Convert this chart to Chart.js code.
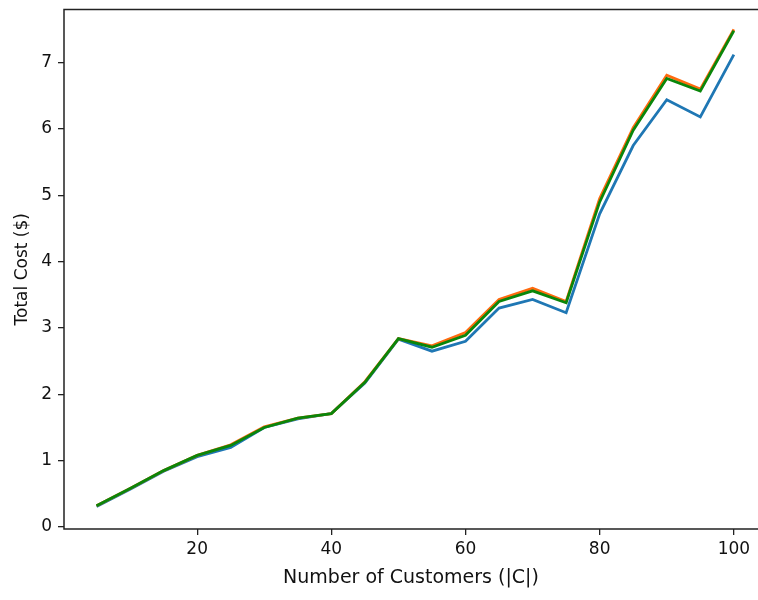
<!DOCTYPE html>
<html>
<head>
<meta charset="utf-8">
<script src="https://cdn.jsdelivr.net/npm/chart.js@4/dist/chart.umd.min.js"></script>
<style>
  html, body { margin: 0; padding: 0; background: #fff; overflow: hidden; }
  #wrap { width: 758px; height: 600px; }
</style>
</head>
<body>
<div id="wrap"><canvas id="costChart" width="758" height="600"></canvas></div>
<script>
// -------------------------
// DATA
// -------------------------

const customers = [5, 10, 15, 20, 25, 30, 35, 40, 45, 50, 55, 60, 65, 70, 75, 80, 85, 90, 95, 100];

const blueCost = [0.31, 0.57, 0.84, 1.06, 1.20, 1.50, 1.63, 1.71, 2.17, 2.83, 2.65, 2.80, 3.30, 3.43, 3.23, 4.72, 5.75, 6.44, 6.18, 7.12];
const orangeCost = [0.32, 0.58, 0.85, 1.08, 1.24, 1.51, 1.64, 1.71, 2.19, 2.84, 2.73, 2.93, 3.43, 3.60, 3.40, 4.95, 6.02, 6.81, 6.60, 7.50];
const greenCost = [0.32, 0.58, 0.85, 1.08, 1.23, 1.50, 1.64, 1.71, 2.18, 2.84, 2.71, 2.89, 3.40, 3.56, 3.38, 4.90, 5.98, 6.76, 6.57, 7.48];

const xTicks = [20, 40, 60, 80, 100];
const yTicks = [0, 1, 2, 3, 4, 5, 6, 7];

// -------------------------
// CHART
// -------------------------

function toPoints(values) {
    return customers.map((c, i) => ({ x: c, y: values[i] }));
}

// axes frame like matplotlib's box; the right side is cut off in the reference
const frameBox = {
    id: 'frameBox',
    afterDraw(chart) {
        const { ctx, chartArea: a, width } = chart;
        ctx.save();
        ctx.strokeStyle = '#222';
        ctx.lineWidth = 1.5;
        ctx.beginPath();
        ctx.moveTo(width, a.top);
        ctx.lineTo(a.left, a.top);
        ctx.lineTo(a.left, a.bottom);
        ctx.lineTo(width, a.bottom);
        ctx.stroke();
        ctx.restore();
    }
};

const tickFont = { family: 'DejaVu Sans', size: 17 };

new Chart(document.getElementById('costChart'), {
    type: 'line',
    data: {
        datasets: [
            { label: 'blue', data: toPoints(blueCost), borderColor: '#1f77b4', order: 3 },
            { label: 'orange', data: toPoints(orangeCost), borderColor: '#ff6a0e', order: 2 },
            { label: 'green', data: toPoints(greenCost), borderColor: '#0a860a', order: 1 }
        ]
    },
    options: {
        responsive: false,
        animation: false,
        devicePixelRatio: 1,
        layout: { padding: { top: 9.5, right: 0, left: 0, bottom: 0 } },
        elements: {
            line: { borderWidth: 2.8, tension: 0, fill: false },
            point: { radius: 0 }
        },
        plugins: { legend: { display: false }, tooltip: { enabled: false } },
        scales: {
            x: {
                type: 'linear',
                min: 0.15,
                max: 103.6,
                afterBuildTicks: s => { s.ticks = xTicks.map(v => ({ value: v })); },
                afterFit: s => { s.height = 71; s.paddingLeft = 0; s.paddingRight = 0; },
                border: { display: false },
                grid: { drawOnChartArea: false, drawTicks: true, tickLength: 6, color: '#222', lineWidth: 1.3 },
                ticks: { color: '#111', font: tickFont, padding: 4, maxRotation: 0 },
                title: {
                    display: true,
                    text: 'Number of Customers (|C|)',
                    color: '#111',
                    font: { family: 'DejaVu Sans', size: 19 },
                    padding: { top: 0, bottom: 11 }
                }
            },
            y: {
                type: 'linear',
                min: -0.03,
                max: 7.8,
                afterBuildTicks: s => { s.ticks = yTicks.map(v => ({ value: v })); },
                afterFit: s => { s.width = 64; s.paddingTop = 0; s.paddingBottom = 0; },
                border: { display: false },
                grid: { drawOnChartArea: false, drawTicks: true, tickLength: 6, color: '#222', lineWidth: 1.3 },
                ticks: { color: '#111', font: tickFont, padding: 6 },
                title: {
                    display: true,
                    text: 'Total Cost ($)',
                    color: '#111',
                    font: { family: 'DejaVu Sans', size: 17 },
                    padding: { top: 12, bottom: 0 }
                }
            }
        }
    },
    plugins: [frameBox]
});
</script>
</body>
</html>
